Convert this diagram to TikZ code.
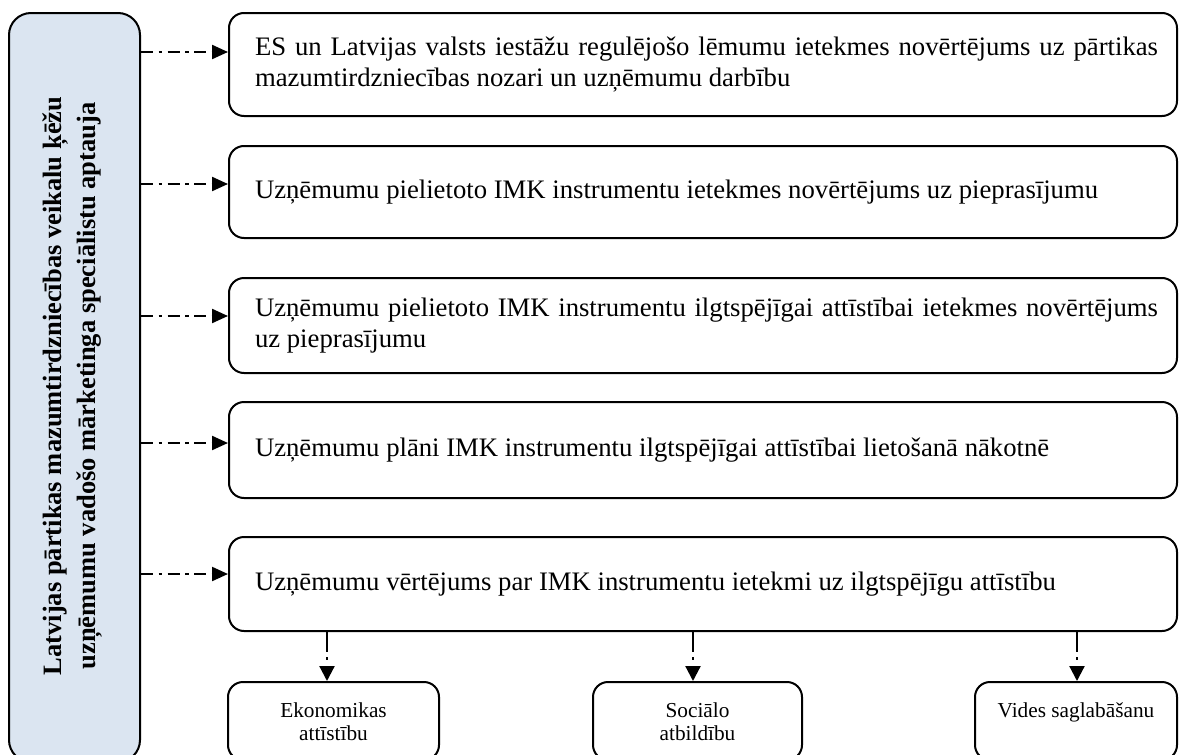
\documentclass[tikz,border=0pt]{standalone}
\usepackage{fontspec}
\setmainfont{Liberation Serif}
\usetikzlibrary{arrows.meta}
\definecolor{sourcefill}{HTML}{DBE5F1}
\hyphenpenalty=10000
\exhyphenpenalty=10000
\begin{document}
\begin{tikzpicture}[x=1pt,y=-1pt,
  box/.style={draw, line width=2pt, rounded corners=15pt, inner sep=0pt},
  srcbox/.style={box, rounded corners=22pt, fill=sourcefill},
  maintext/.style={text width=903pt, align=justify, inner sep=0pt,
    font=\fontsize{26.7pt}{31pt}\selectfont},
  smalltext/.style={align=center, inner sep=0pt, font=\fontsize{21.3pt}{23pt}\selectfont},
  srctext/.style={rotate=90, align=center, inner sep=0pt,
    font=\bfseries\fontsize{26.5pt}{34pt}\selectfont},
  hflow/.style={line width=2.2pt, dash pattern=on 12pt off 5.5pt on 3.5pt off 5.5pt,
    -{Triangle[length=16pt,width=14pt]}},
  vflow/.style={line width=2.2pt, dash pattern=on 20pt off 5pt on 3pt off 10pt,
    -{Triangle[length=15pt,width=15pt]}},
]
\useasboundingbox (0,0) rectangle (1179,755);
\clip (0,0) rectangle (1179,755);

% survey source (left column)
\node[srcbox, minimum width=131pt, minimum height=749pt] (src) at (74.5,387.5) {};
\node[srctext] (srcT) at (73,386)
  {Latvijas pārtikas mazumtirdzniecības veikalu ķēžu\\uzņēmumu vadošo mārketinga speciālistu aptauja};

% survey topics
\node[box, minimum width=948pt, minimum height=103pt] (b1) at (703,64.5) {};
\node[maintext] (t1) at (706.5,64.5)
  {ES un Latvijas valsts iestāžu regulējošo lēmumu ietekmes novērtējums uz pārtikas\linebreak mazumtirdzniecības nozari un uzņēmumu darbību};

\node[box, minimum width=948pt, minimum height=92pt] (b2) at (703,192) {};
\node[maintext] (t2) at (706.5,192)
  {Uzņēmumu pielietoto IMK instrumentu ietekmes novērtējums uz pieprasījumu};

\node[box, minimum width=948pt, minimum height=95pt] (b3) at (703,325.5) {};
\node[maintext] (t3) at (706.5,325.5)
  {Uzņēmumu pielietoto IMK instrumentu ilgtspējīgai attīstībai ietekmes novērtējums\linebreak uz pieprasījumu};

\node[box, minimum width=948pt, minimum height=96pt] (b4) at (703,450) {};
\node[maintext] (t4) at (706.5,450)
  {Uzņēmumu plāni IMK instrumentu ilgtspējīgai attīstībai lietošanā nākotnē};

\node[box, minimum width=948pt, minimum height=94pt] (b5) at (703,584) {};
\node[maintext] (t5) at (706.5,584)
  {Uzņēmumu vērtējums par IMK instrumentu ietekmi uz ilgtspējīgu attīstību};

% sustainability dimensions (base anchor = baseline of the last line)
\node[box, minimum width=211pt, minimum height=78pt] (eA) at (333.5,721) {};
\node[smalltext, anchor=base] (eAT) at (333.5,740) {Ekonomikas\\attīstību};
\node[box, minimum width=209pt, minimum height=78pt] (eB) at (697.5,721) {};
\node[smalltext, anchor=base] (eBT) at (697.5,740) {Sociālo\\atbildību};
\node[box, minimum width=202pt, minimum height=78pt] (eC) at (1076,721) {};
\node[smalltext, anchor=base] (eCT) at (1076,717) {Vides saglabāšanu};

% connectors from the survey to each topic
\coordinate (r1) at (0,52);
\coordinate (r2) at (0,184);
\coordinate (r3) at (0,316);
\coordinate (r4) at (0,443);
\coordinate (r5) at (0,574);
\draw[hflow] (src.east |- r1) -- (b1.west |- r1);
\draw[hflow] (src.east |- r2) -- (b2.west |- r2);
\draw[hflow] (src.east |- r3) -- (b3.west |- r3);
\draw[hflow] (src.east |- r4) -- (b4.west |- r4);
\draw[hflow] (src.east |- r5) -- (b5.west |- r5);

% connectors from the last topic down to the dimensions
\coordinate (cA) at (327,0);
\coordinate (cB) at (693,0);
\coordinate (cC) at (1077,0);
\draw[vflow] (b5.south -| cA) -- (eA.north -| cA);
\draw[vflow] (b5.south -| cB) -- (eB.north -| cB);
\draw[vflow] (b5.south -| cC) -- (eC.north -| cC);
\end{tikzpicture}
\end{document}
